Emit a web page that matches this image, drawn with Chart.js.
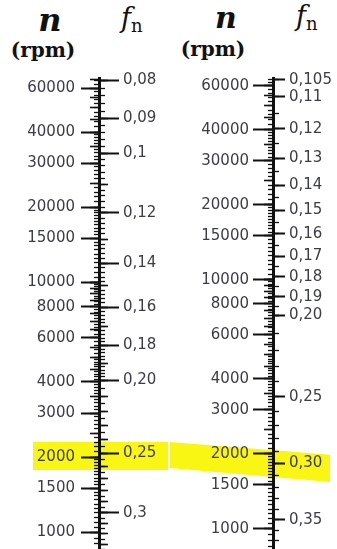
<!DOCTYPE html>
<html>
<head>
<meta charset="utf-8">
<script src="https://cdn.jsdelivr.net/npm/chart.js@4.4.1/dist/chart.umd.min.js"></script>
<style>
    body {margin: 0; background: #fff; width: 337px; height: 549px; position: relative; overflow: hidden}
    .box {position: absolute; top: 0; height: 549px}
    .hd {position: absolute; font-family: 'DejaVu Serif', serif; color: #111; line-height: 1; white-space: nowrap; text-align: center}
    .hd sub {font-size: 18px; font-style: normal; font-weight: normal; position: relative; top: 5px; vertical-align: baseline}
</style>
</head>
<body>
<div class="hd" style="left:20px;width:60px;top:4px;font-size:32px;font-weight:bold;font-style:italic">n</div>
<div class="hd" style="left:3px;width:80px;top:40px;font-size:20px;font-weight:bold">(rpm)</div>
<div class="hd" style="left:121px;top:4px;font-size:27px;font-style:italic">f<sub>n</sub></div>
<div class="hd" style="left:196px;width:60px;top:3px;font-size:30px;font-weight:bold;font-style:italic">n</div>
<div class="hd" style="left:173px;width:80px;top:39px;font-size:20px;font-weight:bold">(rpm)</div>
<div class="hd" style="left:296px;top:2px;font-size:27px;font-style:italic">f<sub>n</sub></div>

<div class="box" style="left:0;width:170px"><canvas class="left_canvas"></canvas></div>
<div class="box" style="left:170px;width:167px"><canvas class="right_canvas"></canvas></div>

<script>
// labelled ticks
const nValues = [60000, 40000, 30000, 20000, 15000, 10000, 8000, 6000, 4000, 3000, 2000, 1500, 1000]
const nLabels = ['60000', '40000', '30000', '20000', '15000', '10000', '8000', '6000', '4000', '3000', '2000', '1500', '1000']
const fnLeftValues = [0.08, 0.09, 0.1, 0.12, 0.14, 0.16, 0.18, 0.2, 0.25, 0.3]
const fnLeftLabels = ['0,08', '0,09', '0,1', '0,12', '0,14', '0,16', '0,18', '0,20', '0,25', '0,3']
const fnRightValues = [0.105, 0.11, 0.12, 0.13, 0.14, 0.15, 0.16, 0.17, 0.18, 0.19, 0.2, 0.25, 0.3, 0.35]
const fnRightLabels = ['0,105', '0,11', '0,12', '0,13', '0,14', '0,15', '0,16', '0,17', '0,18', '0,19', '0,20', '0,25', '0,30', '0,35']

// unlabelled graduations: [from, to, step]
const nSmallSteps = [[800, 2000, 50], [2000, 5000, 100], [5000, 10000, 200], [10000, 20000, 500], [20000, 40000, 1000], [40000, 66000, 2000]]
const nMidSteps = [[500, 10000, 500], [10000, 70000, 5000]]
const fnLeftSmallSteps = [[0.078, 0.2, 0.002], [0.2, 0.34, 0.005]]
const fnLeftMidSteps = [[0.07, 0.34, 0.01]]
const fnRightSmallSteps = [[0.105, 0.2, 0.005], [0.2, 0.38, 0.01]]

// highlighted band on the n scale (rpm), at left end / right end of the mark
const highlightLeft = [1780, 2300]
const highlightRightStart = [1755, 2230]
const highlightRightEnd = [1540, 1980]

function stepValues(steps) {
    const out = []
    steps.forEach(([from, to, step]) => {
        for (let k = Math.ceil(from / step - 1e-6); k * step <= to + 1e-9; k++) out.push(+(k * step).toFixed(4))
    })
    return out
}

function axis(position, min, max, reverse, values, labels, tickLen, pad, width, weight, tickW) {
    return {
        type: 'logarithmic', position, min, max, reverse, bounds: 'data', weight,
        afterBuildTicks: s => { s.ticks = values.filter(v => v >= min && v <= max).map(v => ({value: v})) },
        afterFit: s => { s.width = width; s.paddingTop = 0; s.paddingBottom = 0 },
        grid: {drawOnChartArea: false, drawTicks: true, tickLength: tickLen, tickWidth: tickW, tickColor: '#111'},
        border: {display: true, color: '#111', width: 2},
        title: {display: false},
        ticks: {
            display: !!labels, autoSkip: false, padding: pad, color: '#3c3c46',
            font: {family: 'DejaVu Sans', size: 15},
            callback: v => labels ? labels[values.indexOf(v)] : ''
        }
    }
}

const highlightPlugin = {
    id: 'highlight',
    beforeDraw(chart, args, opts) {
        const y = chart.scales.n
        const ctx = chart.ctx
        ctx.save()
        ctx.fillStyle = 'rgb(250, 246, 20)'
        ctx.beginPath()
        ctx.moveTo(opts.x0, y.getPixelForValue(opts.start[1]))
        ctx.lineTo(opts.x1, y.getPixelForValue(opts.end[1]))
        ctx.lineTo(opts.x1, y.getPixelForValue(opts.end[0]))
        ctx.lineTo(opts.x0, y.getPixelForValue(opts.start[0]))
        ctx.closePath()
        ctx.fill()
        ctx.restore()
    }
}

function makeChart(canvas, cfg) {
    return new Chart(canvas.getContext('2d'), {
        type: 'scatter',
        data: {datasets: []},
        plugins: [highlightPlugin],
        options: {
            responsive: true, maintainAspectRatio: false, animation: false,
            layout: {padding: {top: 78, left: 0, right: 0, bottom: 0}},
            plugins: {legend: {display: false}, tooltip: {enabled: false}, highlight: cfg.highlight},
            scales: {
                n: axis('left', cfg.nMin, cfg.nMax, false, nValues, nLabels, cfg.nTick, cfg.nPad, cfg.nWidth, 2, 2),
                nMid: axis('left', cfg.nMin, cfg.nMax, false, stepValues(nMidSteps), null, 9, 0, 0, 1, 1.6),
                nSmall: axis('left', cfg.nMin, cfg.nMax, false, stepValues(nSmallSteps), null, 5, 0, 0, 0, 1.3),
                fn: axis('right', cfg.fMin, cfg.fMax, true, cfg.fValues, cfg.fLabels, cfg.fTick, cfg.fPad, cfg.fWidth, 2, 2),
                fnMid: axis('right', cfg.fMin, cfg.fMax, true, cfg.fMid, null, 8, 0, 0, 1, 1.6),
                fnSmall: axis('right', cfg.fMin, cfg.fMax, true, cfg.fSmall, null, 5, 0, 0, 0, 1.3)
            }
        }
    })
}

const leftChart = makeChart(document.querySelector('.left_canvas'), {
    nMin: 859, nMax: 65790, fMin: 0.07951, fMax: 0.3350,
    nTick: 18, nPad: 6, nWidth: 99, fTick: 19, fPad: 4, fWidth: 70,
    fValues: fnLeftValues, fLabels: fnLeftLabels,
    fMid: stepValues(fnLeftMidSteps), fSmall: stepValues(fnLeftSmallSteps),
    highlight: {x0: 33, x1: 168, start: highlightLeft, end: highlightLeft}
})

const rightChart = makeChart(document.querySelector('.right_canvas'), {
    nMin: 829, nMax: 64600, fMin: 0.10443, fMax: 0.3791,
    nTick: 20, nPad: 4, nWidth: 103, fTick: 11, fPad: 4, fWidth: 63,
    fValues: fnRightValues, fLabels: fnRightLabels,
    fMid: [], fSmall: stepValues(fnRightSmallSteps),
    highlight: {x0: 0, x1: 160, start: highlightRightStart, end: highlightRightEnd}
})
</script>
</body>
</html>
